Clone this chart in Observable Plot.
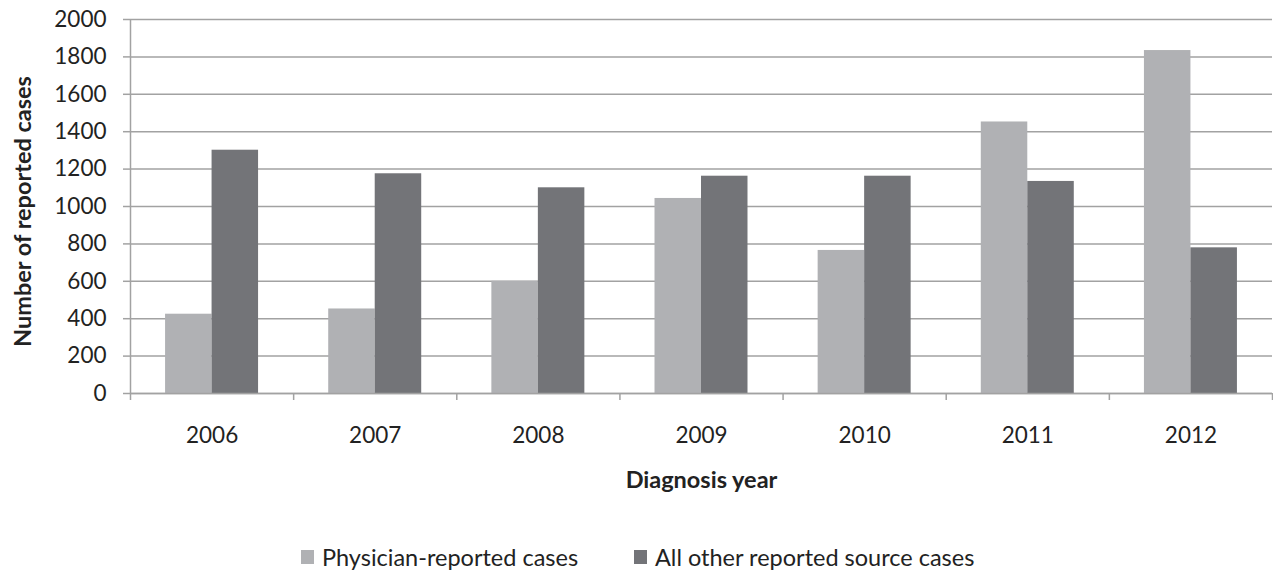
<!DOCTYPE html>
<html>
<head>
<meta charset="utf-8">
<script src="https://cdn.jsdelivr.net/npm/d3@7"></script>
<script src="https://cdn.jsdelivr.net/npm/@observablehq/plot@0.6"></script>
<style>
  body { margin: 0; background: #fff; font-family: Lato, "Open Sans", sans-serif; color: #222; }
  #wrap { position: relative; width: 1273px; height: 571px; }
  .legend-item { position: absolute; top: 542px; display: flex; align-items: center; font-size: 23.5px; line-height: 30px; color: #222; white-space: nowrap; }
  .legend-item .sw { width: 13px; height: 14px; margin-right: 8px; }
</style>
</head>
<body>
<div id="wrap"></div>
<script>
// Reported cases by diagnosis year
const years = [2006, 2007, 2008, 2009, 2010, 2011, 2012];
const physicianCases = [424, 452, 600, 1043, 765, 1452, 1834];
const otherSourceCases = [1301, 1175, 1100, 1162, 1162, 1134, 779];
const yTicks = [0, 200, 400, 600, 800, 1000, 1200, 1400, 1600, 1800, 2000];
const seriesNames = ["Physician-reported cases", "All other reported source cases"];
const seriesColors = ["#b0b1b4", "#737478"];

// each bar takes this share of a year's slot (in year units)
const barShare = 0.285;
const yearEdges = [...years.map(y => y - 0.5), years[years.length - 1] + 0.5];

const rows = years.flatMap((year, i) => [
  { year, series: seriesNames[0], value: physicianCases[i], x1: year - barShare, x2: year },
  { year, series: seriesNames[1], value: otherSourceCases[i], x1: year, x2: year + barShare }
]);

const axisGray = "#a2a2a2";

const chart = Plot.plot({
  width: 1273,
  height: 520,
  marginLeft: 130,
  marginRight: 1,
  marginTop: 19,
  marginBottom: 127,
  style: { fontFamily: "Lato, 'Open Sans', sans-serif", fontSize: "22px", color: "#222", background: "#fff", overflow: "visible" },
  x: { type: "linear", domain: [yearEdges[0], yearEdges[yearEdges.length - 1]], label: null },
  y: { domain: [0, 2000], label: null },
  color: { domain: seriesNames, range: seriesColors },
  marks: [
    Plot.gridY(yTicks, { stroke: axisGray, strokeOpacity: 1, strokeWidth: 1.5 }),
    Plot.rectY(rows, { x1: "x1", x2: "x2", y: "value", fill: "series" }),
    Plot.ruleY([0], { stroke: axisGray, strokeWidth: 1.5 }),
    Plot.ruleX([yearEdges[0]], { stroke: axisGray, strokeWidth: 1.5 }),
    Plot.axisY(yTicks, { tickSize: 7, tickPadding: 17, tickFormat: d => String(d), stroke: axisGray, strokeWidth: 1.5, fill: "#222", fontSize: 22.5, label: null }),
    Plot.axisX(yearEdges, { tickSize: 7, tickFormat: () => "", stroke: axisGray, strokeWidth: 1.5, label: null }),
    Plot.axisX(years, { tickSize: 0, tickPadding: 34, tickFormat: d => String(d), fill: "#222", fontSize: 22.5, label: null }),
    Plot.text(["Diagnosis year"], { frameAnchor: "bottom", dy: 94, fontWeight: "bold", fontSize: 23.5, fill: "#222" }),
    Plot.text(["Number of reported cases"], { frameAnchor: "left", textAnchor: "middle", rotate: -90, dx: -107, dy: 5, fontWeight: "bold", fontSize: 23.5, fill: "#222" })
  ]
});

const wrap = document.getElementById("wrap");
wrap.appendChild(chart);

// legend below the plot
const legendLeft = [301, 634];
seriesNames.forEach((name, i) => {
  const item = document.createElement("div");
  item.className = "legend-item";
  item.style.left = legendLeft[i] + "px";
  const sw = document.createElement("span");
  sw.className = "sw";
  sw.style.background = seriesColors[i];
  const label = document.createElement("span");
  label.textContent = name;
  item.appendChild(sw);
  item.appendChild(label);
  wrap.appendChild(item);
});
</script>
</body>
</html>
